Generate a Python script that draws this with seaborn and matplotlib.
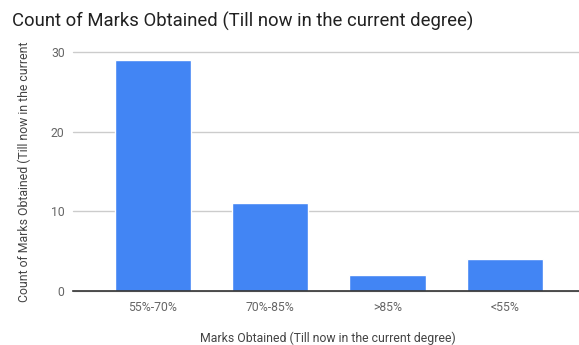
import matplotlib
matplotlib.use("Agg")
import matplotlib.pyplot as plt
import seaborn as sns
import pandas as pd

categories = ["55%-70%", "70%-85%", ">85%", "<55%"]
counts = [29, 11, 2, 4]
yticks = [0, 10, 20, 30]

title = "Count of Marks Obtained (Till now in the current degree)"
xlabel = "Marks Obtained (Till now in the current degree)"
ylabel = "Count of Marks Obtained (Till now in the current"

df = pd.DataFrame({"cat": categories, "count": counts})

sns.set_theme(style="white")
plt.rcParams["font.family"] = ["Roboto", "DejaVu Sans"]

W, H = 579, 345
fig = plt.figure(figsize=(W / 100, H / 100), dpi=100)
ax = fig.add_axes([73 / W, 1 - 291 / H, 1 - 73 / W, (291 - 52) / H])

sns.barplot(data=df, x="cat", y="count", ax=ax, color="#4285F4",
            saturation=1, width=0.65, zorder=3)

ax.set_ylim(0, 30)
ax.set_xlim(-0.68, 3.63)
ax.set_yticks(yticks)
ax.yaxis.grid(True, color="#cccccc", linewidth=1, zorder=0)
for gl in ax.get_ygridlines():
    gl.set_clip_on(False)
ax.set_axisbelow(True)

for s in ["top", "right", "left"]:
    ax.spines[s].set_visible(False)
ax.spines["bottom"].set_color("#333333")
ax.spines["bottom"].set_linewidth(1.2)
ax.spines["bottom"].set_zorder(4)

ax.tick_params(axis="both", length=0, colors="#666666", labelsize=8.8)
ax.tick_params(axis="x", pad=7)
ax.tick_params(axis="y", pad=6)

ax.set_xlabel("")
ax.set_ylabel(ylabel, fontsize=8.8, color="#444444", labelpad=14)

fig.text(328 / W, 1 - 338 / H, xlabel, fontsize=8.8, color="#444444",
         ha="center", va="center")

fig.text(12 / W, 1 - 21 / H, title, fontsize=13.3, color="#212121",
         ha="left", va="center")

fig.savefig("out.png", dpi=100)
